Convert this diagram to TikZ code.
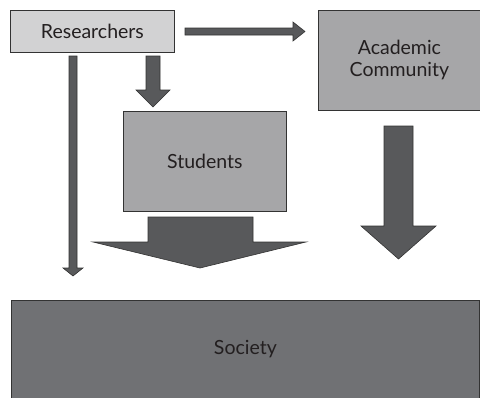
\documentclass[tikz,border=0pt]{standalone}
\usepackage{fontspec}
\setmainfont{Lato}
\definecolor{boxlight}{HTML}{D2D2D3}
\definecolor{boxmid}{HTML}{A6A6A8}
\definecolor{boxdark}{HTML}{707174}
\definecolor{arrowfill}{HTML}{58595B}
\definecolor{edge}{HTML}{333333}
\definecolor{txt}{HTML}{231F20}
\begin{document}
\begin{tikzpicture}[x=1pt,y=-1pt,
  box/.style={draw=edge,line width=0.8pt,inner sep=0pt,anchor=north west,text=txt,font=\fontsize{19.5}{22}\selectfont,align=center},
  blockarrow/.style={draw=edge,line width=0.6pt,fill=arrowfill,line join=miter}]
\useasboundingbox (0,0) rectangle (480,397);
\node[box,fill=boxlight,minimum width=164pt,minimum height=42pt] (res) at (10,10) {Researchers};
\node[box,fill=boxmid,minimum width=162pt,minimum height=100pt] (acad) at (318,10) {Academic\\Community};
\node[box,fill=boxmid,minimum width=163pt,minimum height=100pt] (stud) at (123,111) {Students};
\node[box,fill=boxdark,minimum width=468pt,minimum height=98pt] (soc) at (11,300) {Society};
% Researchers -> Academic Community
\draw[blockarrow] (185,28) -- (293,28) -- (293,22) -- (305,31.5) -- (293,41) -- (293,35) -- (185,35) -- cycle;
% Researchers -> Society (thin)
\draw[blockarrow] (69,56) -- (77,56) -- (77,268) -- (83,268) -- (73,276) -- (63,268) -- (69,268) -- cycle;
% Researchers -> Students
\draw[blockarrow] (146,56) -- (160,56) -- (160,90) -- (170,90) -- (153,107) -- (136,90) -- (146,90) -- cycle;
% Academic Community -> Society
\draw[blockarrow] (384,126) -- (413,126) -- (413,226) -- (436,226) -- (398.5,259) -- (361,226) -- (384,226) -- cycle;
% Students -> Society
\draw[blockarrow] (148,217) -- (253,217) -- (253,242) -- (306,242) -- (200,268) -- (93,242) -- (148,242) -- cycle;
\end{tikzpicture}
\end{document}
